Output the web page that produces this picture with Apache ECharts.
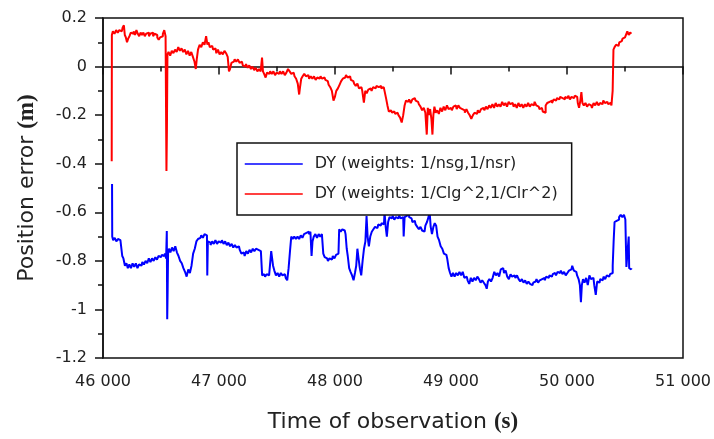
<!DOCTYPE html>
<html>
<head>
<meta charset="utf-8">
<script src="https://cdn.jsdelivr.net/npm/echarts@6/dist/echarts.min.js"></script>
<style>html,body{margin:0;padding:0;background:#fff;}#chart{width:714px;height:439px;}</style>
</head>
<body>
<div id="chart"></div>
<script>
var xTicks = [46000, 47000, 48000, 49000, 50000, 51000];
var yTicks = [-1.2, -1, -0.8, -0.6, -0.4, -0.2, 0, 0.2];
var legendNames = ['DY (weights: 1/nsg,1/nsr)', 'DY (weights: 1/Clg^2,1/Clr^2)'];

// [time (s), position error (m)]
var bluePoints = [
[46078,-0.484],[46081,-0.70],[46094,-0.715],[46108,-0.705],[46122,-0.72],[46136,-0.71],[46150,-0.715],[46162,-0.72],[46170,-0.78],[46182,-0.79],
[46196,-0.82],[46208,-0.81],[46220,-0.83],[46234,-0.815],[46248,-0.83],[46262,-0.81],[46276,-0.825],[46290,-0.81],[46304,-0.83],[46318,-0.815],
[46332,-0.82],[46346,-0.805],[46360,-0.815],[46374,-0.80],[46388,-0.81],[46402,-0.79],[46416,-0.805],[46430,-0.79],[46444,-0.80],[46458,-0.785],
[46472,-0.795],[46486,-0.78],[46500,-0.785],[46514,-0.775],[46528,-0.78],[46540,-0.77],[46548,-0.79],[46552,-0.677],[46555,-1.04],[46559,-0.93],
[46563,-0.77],[46574,-0.75],[46588,-0.765],[46602,-0.745],[46616,-0.76],[46630,-0.74],[46644,-0.765],[46658,-0.78],[46672,-0.80],[46686,-0.81],
[46700,-0.83],[46714,-0.845],[46728,-0.865],[46742,-0.835],[46756,-0.85],[46770,-0.82],[46784,-0.77],[46798,-0.75],[46812,-0.72],[46826,-0.71],
[46840,-0.705],[46854,-0.695],[46868,-0.705],[46882,-0.69],[46896,-0.695],[46902,-0.86],[46906,-0.72],[46920,-0.725],[46934,-0.735],[46948,-0.72],
[46962,-0.73],[46976,-0.715],[46990,-0.73],[47004,-0.72],[47018,-0.725],[47032,-0.715],[47046,-0.73],[47060,-0.72],[47074,-0.735],[47088,-0.725],
[47102,-0.74],[47116,-0.73],[47130,-0.745],[47144,-0.735],[47158,-0.745],[47172,-0.74],[47186,-0.755],[47200,-0.77],[47214,-0.765],[47228,-0.78],
[47242,-0.76],[47256,-0.77],[47270,-0.755],[47284,-0.765],[47298,-0.75],[47312,-0.76],[47326,-0.75],[47340,-0.755],[47354,-0.76],[47368,-0.755],
[47376,-0.86],[47390,-0.855],[47404,-0.865],[47418,-0.855],[47432,-0.86],[47446,-0.86],[47454,-0.76],[47462,-0.765],[47470,-0.82],[47484,-0.84],
[47498,-0.86],[47512,-0.85],[47526,-0.865],[47540,-0.85],[47554,-0.86],[47568,-0.855],[47582,-0.87],[47594,-0.88],[47606,-0.83],[47618,-0.76],
[47628,-0.70],[47642,-0.71],[47656,-0.70],[47670,-0.71],[47684,-0.70],[47698,-0.71],[47712,-0.695],[47726,-0.705],[47740,-0.69],[47754,-0.685],
[47768,-0.68],[47782,-0.69],[47794,-0.68],[47802,-0.78],[47810,-0.72],[47824,-0.70],[47838,-0.69],[47852,-0.705],[47866,-0.69],[47880,-0.70],
[47894,-0.69],[47904,-0.77],[47918,-0.785],[47932,-0.79],[47946,-0.80],[47960,-0.79],[47974,-0.795],[47988,-0.78],[48002,-0.79],[48016,-0.775],
[48030,-0.77],[48042,-0.67],[48056,-0.68],[48070,-0.67],[48084,-0.675],[48098,-0.69],[48104,-0.75],[48116,-0.78],[48128,-0.83],[48140,-0.845],
[48154,-0.86],[48166,-0.88],[48178,-0.85],[48188,-0.82],[48198,-0.75],[48208,-0.79],[48220,-0.83],[48232,-0.86],[48244,-0.80],[48256,-0.75],
[48268,-0.72],[48276,-0.615],[48286,-0.70],[48298,-0.74],[48310,-0.70],[48324,-0.68],[48338,-0.67],[48352,-0.66],[48366,-0.665],[48380,-0.65],
[48394,-0.655],[48408,-0.645],[48422,-0.65],[48432,-0.60],[48442,-0.66],[48452,-0.70],[48464,-0.64],[48476,-0.62],[48490,-0.625],[48504,-0.615],
[48518,-0.63],[48532,-0.62],[48546,-0.625],[48560,-0.615],[48574,-0.625],[48588,-0.62],[48596,-0.70],[48604,-0.62],[48618,-0.615],[48632,-0.61],
[48646,-0.62],[48660,-0.625],[48674,-0.64],[48688,-0.635],[48702,-0.65],[48716,-0.66],[48730,-0.67],[48744,-0.66],[48758,-0.675],[48772,-0.68],
[48786,-0.655],[48800,-0.64],[48812,-0.62],[48820,-0.60],[48830,-0.66],[48842,-0.69],[48854,-0.66],[48866,-0.645],[48878,-0.655],[48890,-0.70],
[48904,-0.715],[48918,-0.74],[48932,-0.75],[48946,-0.77],[48960,-0.775],[48974,-0.79],[48986,-0.83],[48998,-0.85],[49010,-0.865],[49024,-0.85],
[49038,-0.865],[49052,-0.85],[49066,-0.86],[49080,-0.845],[49094,-0.86],[49108,-0.845],[49122,-0.87],[49136,-0.865],[49150,-0.88],[49164,-0.895],
[49178,-0.87],[49192,-0.885],[49206,-0.87],[49220,-0.88],[49234,-0.865],[49248,-0.875],[49262,-0.89],[49276,-0.88],[49290,-0.89],[49304,-0.90],
[49312,-0.915],[49324,-0.885],[49338,-0.875],[49352,-0.885],[49366,-0.87],[49380,-0.845],[49394,-0.86],[49408,-0.85],[49422,-0.865],[49436,-0.835],
[49450,-0.83],[49464,-0.85],[49478,-0.84],[49492,-0.865],[49506,-0.875],[49520,-0.855],[49534,-0.865],[49548,-0.86],[49562,-0.87],[49576,-0.86],
[49590,-0.875],[49604,-0.885],[49618,-0.875],[49632,-0.89],[49646,-0.88],[49660,-0.895],[49674,-0.885],[49688,-0.895],[49702,-0.90],[49716,-0.89],
[49730,-0.885],[49744,-0.875],[49758,-0.89],[49772,-0.88],[49786,-0.875],[49800,-0.87],[49814,-0.88],[49828,-0.865],[49842,-0.87],[49856,-0.86],
[49870,-0.865],[49884,-0.855],[49898,-0.85],[49912,-0.86],[49926,-0.845],[49940,-0.85],[49954,-0.84],[49968,-0.855],[49982,-0.845],[49996,-0.86],
[50010,-0.85],[50024,-0.84],[50038,-0.835],[50052,-0.82],[50066,-0.84],[50080,-0.845],[50094,-0.86],[50106,-0.875],[50116,-0.90],[50124,-0.97],
[50132,-0.90],[50144,-0.875],[50158,-0.89],[50172,-0.87],[50186,-0.90],[50200,-0.86],[50214,-0.875],[50228,-0.87],[50242,-0.90],[50254,-0.94],
[50266,-0.885],[50280,-0.89],[50294,-0.875],[50308,-0.88],[50322,-0.865],[50336,-0.875],[50350,-0.86],[50364,-0.865],[50378,-0.855],[50390,-0.85],
[50398,-0.82],[50406,-0.72],[50414,-0.64],[50428,-0.635],[50442,-0.63],[50456,-0.62],[50470,-0.61],[50484,-0.62],[50498,-0.61],[50508,-0.63],
[50516,-0.825],[50524,-0.83],[50530,-0.83],[50534,-0.70],[50538,-0.83],[50548,-0.835],[50560,-0.83]
];

var redPoints = [
[46075,-0.39],[46078,0.13],[46092,0.145],[46106,0.135],[46120,0.15],[46134,0.14],[46148,0.15],[46162,0.145],[46176,0.16],[46184,0.17],
[46192,0.13],[46202,0.12],[46212,0.10],[46222,0.115],[46234,0.125],[46246,0.14],[46258,0.135],[46270,0.145],[46282,0.13],[46294,0.15],
[46306,0.135],[46318,0.125],[46330,0.14],[46342,0.13],[46354,0.14],[46366,0.125],[46378,0.135],[46390,0.14],[46402,0.125],[46414,0.135],
[46426,0.14],[46438,0.125],[46450,0.135],[46462,0.13],[46474,0.12],[46486,0.11],[46498,0.12],[46510,0.125],[46522,0.135],[46534,0.15],
[46545,0.125],[46549,-0.43],[46553,-0.26],[46558,0.05],[46572,0.06],[46586,0.045],[46600,0.065],[46614,0.055],[46628,0.07],[46642,0.06],
[46656,0.08],[46670,0.065],[46684,0.075],[46698,0.06],[46712,0.07],[46726,0.05],[46740,0.065],[46754,0.045],[46768,0.06],[46782,0.04],
[46796,0.02],[46804,-0.01],[46812,0.03],[46826,0.07],[46840,0.09],[46854,0.08],[46868,0.10],[46882,0.09],[46896,0.125],[46904,0.09],
[46914,0.10],[46928,0.08],[46942,0.085],[46956,0.07],[46970,0.075],[46984,0.055],[46998,0.07],[47012,0.05],[47026,0.06],[47040,0.05],
[47054,0.065],[47068,0.055],[47082,0.04],[47090,-0.02],[47100,-0.01],[47114,0.015],[47128,0.02],[47142,0.03],[47156,0.02],[47170,0.03],
[47184,0.015],[47198,0.02],[47212,0.005],[47226,0.0],[47240,0.01],[47254,-0.005],[47268,0.005],[47282,-0.01],[47296,0.0],[47310,-0.015],
[47324,-0.005],[47338,-0.02],[47352,-0.01],[47366,-0.02],[47376,0.037],[47382,-0.02],[47396,-0.03],[47408,-0.045],[47420,-0.025],[47434,-0.03],
[47448,-0.02],[47462,-0.03],[47476,-0.02],[47490,-0.035],[47504,-0.025],[47518,-0.03],[47532,-0.02],[47546,-0.03],[47560,-0.02],[47574,-0.035],
[47588,-0.025],[47602,-0.01],[47616,-0.02],[47630,-0.03],[47644,-0.025],[47658,-0.04],[47672,-0.05],[47686,-0.07],[47696,-0.115],[47704,-0.08],
[47714,-0.05],[47728,-0.04],[47742,-0.03],[47756,-0.04],[47770,-0.035],[47784,-0.05],[47798,-0.04],[47812,-0.05],[47826,-0.04],[47840,-0.055],
[47854,-0.045],[47868,-0.05],[47882,-0.04],[47896,-0.05],[47910,-0.045],[47924,-0.055],[47938,-0.06],[47952,-0.075],[47966,-0.085],[47980,-0.10],
[47994,-0.14],[48004,-0.125],[48018,-0.10],[48032,-0.09],[48046,-0.075],[48060,-0.06],[48074,-0.05],[48088,-0.045],[48102,-0.035],[48116,-0.045],
[48130,-0.04],[48144,-0.055],[48158,-0.06],[48172,-0.07],[48186,-0.08],[48200,-0.07],[48214,-0.09],[48228,-0.085],[48242,-0.10],[48256,-0.148],
[48266,-0.10],[48280,-0.11],[48294,-0.095],[48308,-0.09],[48322,-0.10],[48336,-0.085],[48350,-0.09],[48364,-0.08],[48378,-0.085],[48392,-0.08],
[48406,-0.09],[48420,-0.085],[48434,-0.10],[48446,-0.13],[48458,-0.16],[48470,-0.185],[48484,-0.18],[48498,-0.19],[48512,-0.185],[48526,-0.195],
[48540,-0.19],[48554,-0.20],[48568,-0.21],[48582,-0.23],[48594,-0.20],[48606,-0.16],[48618,-0.14],[48632,-0.145],[48646,-0.135],[48660,-0.15],
[48674,-0.135],[48688,-0.13],[48702,-0.14],[48716,-0.145],[48730,-0.155],[48744,-0.165],[48758,-0.18],[48772,-0.17],[48786,-0.19],[48796,-0.28],
[48804,-0.17],[48814,-0.20],[48826,-0.175],[48836,-0.215],[48844,-0.28],[48852,-0.20],[48862,-0.165],[48874,-0.19],[48888,-0.18],[48902,-0.195],
[48916,-0.17],[48930,-0.185],[48944,-0.165],[48958,-0.18],[48972,-0.16],[48986,-0.175],[49000,-0.17],[49014,-0.18],[49028,-0.165],[49042,-0.16],
[49056,-0.175],[49070,-0.16],[49084,-0.17],[49098,-0.175],[49112,-0.18],[49126,-0.19],[49140,-0.175],[49154,-0.19],[49168,-0.20],[49182,-0.215],
[49196,-0.20],[49210,-0.19],[49224,-0.195],[49238,-0.18],[49252,-0.19],[49266,-0.175],[49280,-0.17],[49294,-0.18],[49308,-0.165],[49322,-0.175],
[49336,-0.16],[49350,-0.17],[49364,-0.155],[49378,-0.17],[49392,-0.15],[49406,-0.165],[49420,-0.155],[49434,-0.165],[49448,-0.145],[49462,-0.16],
[49476,-0.15],[49490,-0.165],[49504,-0.145],[49518,-0.155],[49532,-0.15],[49546,-0.165],[49560,-0.155],[49574,-0.17],[49588,-0.15],[49602,-0.165],
[49616,-0.155],[49630,-0.17],[49644,-0.155],[49658,-0.165],[49672,-0.15],[49686,-0.165],[49700,-0.155],[49714,-0.16],[49728,-0.145],[49742,-0.16],
[49756,-0.165],[49770,-0.175],[49784,-0.17],[49798,-0.185],[49810,-0.19],[49822,-0.16],[49836,-0.15],[49850,-0.145],[49864,-0.14],[49878,-0.15],
[49892,-0.135],[49906,-0.14],[49920,-0.13],[49934,-0.135],[49948,-0.125],[49962,-0.13],[49976,-0.135],[49990,-0.125],[50004,-0.13],[50018,-0.12],
[50032,-0.135],[50046,-0.125],[50060,-0.13],[50074,-0.12],[50088,-0.125],[50098,-0.15],[50110,-0.17],[50120,-0.14],[50128,-0.105],[50138,-0.15],
[50152,-0.16],[50166,-0.15],[50180,-0.165],[50194,-0.155],[50208,-0.16],[50222,-0.17],[50236,-0.15],[50250,-0.16],[50264,-0.145],[50278,-0.16],
[50292,-0.15],[50306,-0.155],[50320,-0.14],[50334,-0.15],[50348,-0.145],[50362,-0.155],[50376,-0.15],[50390,-0.16],[50397,-0.10],[50404,0.07],
[50416,0.08],[50430,0.09],[50444,0.085],[50458,0.10],[50472,0.105],[50486,0.115],[50500,0.12],[50514,0.125],[50526,0.145],[50538,0.13],
[50550,0.14],[50560,0.135]
];

var FONT = 'DejaVu Sans';
var chart = echarts.init(document.getElementById('chart'), null, {renderer: 'canvas'});
chart.setOption({
  animation: false,
  backgroundColor: '#fff',
  grid: {left: 103, right: 31, top: 18, bottom: 80, show: true, borderColor: '#111', borderWidth: 1.5, backgroundColor: 'transparent'},
  legend: {
    data: legendNames,
    orient: 'vertical',
    left: 237, top: 143,
    itemWidth: 58, itemHeight: 14, itemGap: 14,
    padding: [13, 14, 13, 7],
    borderColor: '#111', borderWidth: 1.5,
    backgroundColor: '#fff',
    itemStyle: {opacity: 0},
    lineStyle: {width: 1.5},
    textStyle: {fontFamily: FONT, fontSize: 16, color: '#222', padding: [0, 0, 0, 7]}
  },
  xAxis: {
    type: 'value', min: xTicks[0], max: xTicks[xTicks.length - 1], interval: 1000,
    name: '{a|Time of observation }{b|(s)}', nameLocation: 'middle', nameGap: 53,
    nameTextStyle: {rich: {
      a: {fontFamily: FONT, fontSize: 22, color: '#222'},
      b: {fontFamily: 'Liberation Serif', fontWeight: 'bold', fontSize: 23, color: '#222'}
    }},
    axisLine: {lineStyle: {color: '#111', width: 1.5}},
    axisTick: {inside: false, length: 8, lineStyle: {color: '#111', width: 1.5}},
    minorTick: {show: true, splitNumber: 2, length: 5, lineStyle: {color: '#111', width: 1.5}},
    splitLine: {show: false},
    axisLabel: {fontFamily: FONT, fontSize: 16, color: '#222', margin: 16,
      formatter: function (v) { var s = String(v); return s.slice(0, s.length - 3) + ' ' + s.slice(-3); }}
  },
  yAxis: {
    type: 'value', min: yTicks[0], max: yTicks[yTicks.length - 1], interval: 0.2,
    name: '{a|Position error }{b|(m)}', nameLocation: 'middle', nameGap: 64, nameRotate: 90,
    nameTextStyle: {rich: {
      a: {fontFamily: FONT, fontSize: 22, color: '#222'},
      b: {fontFamily: 'Liberation Serif', fontWeight: 'bold', fontSize: 23, color: '#222'}
    }},
    axisLine: {show: true, lineStyle: {color: '#111', width: 1.5}},
    axisTick: {show: true, inside: false, length: 8, lineStyle: {color: '#111', width: 1.5}},
    minorTick: {show: true, splitNumber: 2, length: 5, lineStyle: {color: '#111', width: 1.5}},
    splitLine: {show: false},
    axisLabel: {fontFamily: FONT, fontSize: 16, color: '#222', margin: 16,
      formatter: function (v) { var r = Math.round(v * 10) / 10; return String(r); }}
  },
  series: [
    {name: legendNames[0], type: 'line', data: bluePoints, step: 'middle', symbol: 'none', color: '#0000ff', lineStyle: {color: '#0000ff', width: 2}, z: 2},
    {name: legendNames[1], type: 'line', data: redPoints, step: 'middle', symbol: 'none', color: '#ff0000', lineStyle: {color: '#ff0000', width: 2}, z: 3}
  ]
});
</script>
</body>
</html>
